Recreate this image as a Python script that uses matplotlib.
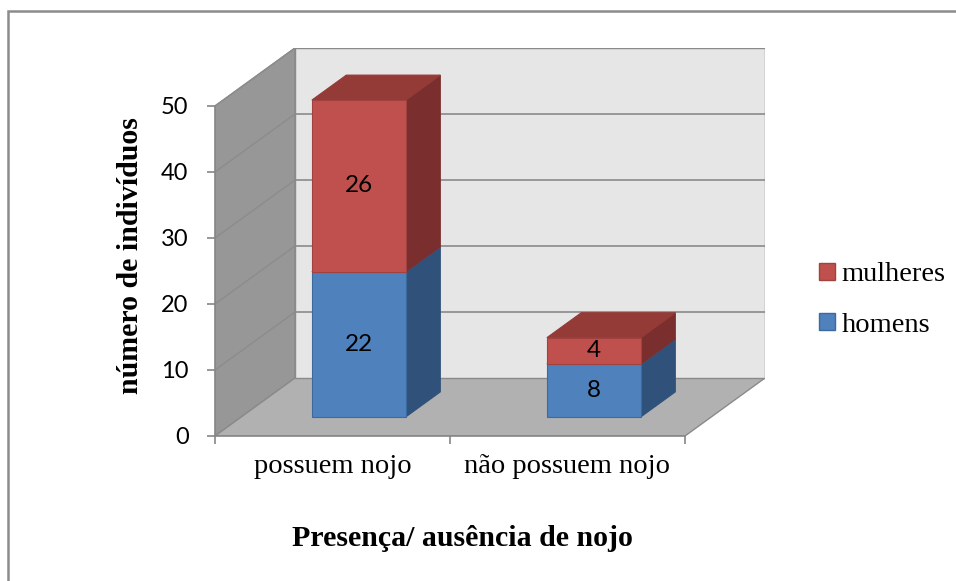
import matplotlib
matplotlib.use("Agg")
import matplotlib.pyplot as plt
from matplotlib.patches import Polygon, Rectangle, Patch
from matplotlib.font_manager import FontProperties

# ---------------- data ----------------
categories = ["possuem nojo", "não possuem nojo"]
homens = [22, 8]
mulheres = [26, 4]
series_names = ["homens", "mulheres"]
y_ticks = [0, 10, 20, 30, 40, 50]
y_max = 50

# ---------------- styles ----------------
front_cols = {"homens": "#4F81BD", "mulheres": "#C0504D"}
side_cols = {"homens": "#30527A", "mulheres": "#7A2F2E"}
top_cols = {"homens": "#3E6797", "mulheres": "#943A37"}
edge_cols = {"homens": "#3C6A9E", "mulheres": "#A04340"}

W, H = 956, 581
fig = plt.figure(figsize=(W / 100, H / 100), dpi=100)

# projection geometry (pixels)
x0_px, y0_px = 215, 436
cat_px = 235
unit_px = 6.6
dx_px, dy_px = 80, 58
n = len(categories)
DX = dx_px / cat_px
DY = dy_px / unit_px
xmax = n + DX
ytop = y_max + DY

ax = fig.add_axes([x0_px / W, (H - y0_px) / H, xmax * cat_px / W, ytop * unit_px / H])
ax.set_xlim(0, xmax)
ax.set_ylim(0, ytop)
ax.patch.set_visible(False)

grid_c = "#8a8a8a"
# walls
ax.add_patch(Polygon([(0, 0), (DX, DY), (DX, y_max + DY), (0, y_max)],
                     closed=True, fc="#979797", ec=grid_c, lw=1, zorder=1))
ax.add_patch(Polygon([(0, 0), (n, 0), (n + DX, DY), (DX, DY)],
                     closed=True, fc="#b1b1b1", ec=grid_c, lw=1, zorder=1))
ax.add_patch(Polygon([(DX, DY), (n + DX, DY), (n + DX, y_max + DY), (DX, y_max + DY)],
                     closed=True, fc="#e6e6e6", ec=grid_c, lw=1, zorder=1))
for t in y_ticks[1:]:
    ax.plot([DX, n + DX], [t + DY, t + DY], color=grid_c, lw=1.2, zorder=2)
    ax.plot([0, DX], [t, t + DY], color="#8c8c8c", lw=1, zorder=2)

# bars
bw = 0.4
d0, d1 = 0.33, 0.76
values = {"homens": homens, "mulheres": mulheres}
for i in range(n):
    xc = i + 0.5
    xl, xr = xc - bw / 2, xc + bw / 2
    bottom = 0
    for s in series_names:
        v = values[s][i]
        top = bottom + v
        a0x, a0y = d0 * DX, d0 * DY
        a1x, a1y = d1 * DX, d1 * DY
        ax.add_patch(Polygon([(xr + a0x, bottom + a0y), (xr + a1x, bottom + a1y),
                              (xr + a1x, top + a1y), (xr + a0x, top + a0y)],
                             closed=True, fc=side_cols[s], ec=side_cols[s], lw=0.8, zorder=3))
        ax.add_patch(Polygon([(xl + a0x, top + a0y), (xr + a0x, top + a0y),
                              (xr + a1x, top + a1y), (xl + a1x, top + a1y)],
                             closed=True, fc=top_cols[s], ec=top_cols[s], lw=0.8, zorder=3))
        ax.add_patch(Polygon([(xl + a0x, bottom + a0y), (xr + a0x, bottom + a0y),
                              (xr + a0x, top + a0y), (xl + a0x, top + a0y)],
                             closed=True, fc=front_cols[s], ec=edge_cols[s], lw=0.8, zorder=4))
        ax.text(xc + a0x, (bottom + top) / 2 + a0y, str(v), ha="center", va="center",
                fontsize=17.5, family="Lato", color="black", zorder=5)
        bottom = top

# axes
for sp in ["top", "right"]:
    ax.spines[sp].set_visible(False)
ax.spines["left"].set_bounds(0, y_max)
ax.spines["bottom"].set_bounds(0, n)
for sp in ["left", "bottom"]:
    ax.spines[sp].set_color("#868686")
    ax.spines[sp].set_linewidth(1.2)
    ax.spines[sp].set_zorder(6)
ax.set_yticks(y_ticks)
ax.set_yticklabels([str(t) for t in y_ticks], family="Lato", fontsize=17)
ax.tick_params(axis="y", length=6, color="#868686", width=1.2, pad=13)
ax.set_xticks(list(range(n + 1)))
ax.set_xticklabels([""] * (n + 1))
ax.tick_params(axis="x", which="major", length=6, color="#868686", width=1.2)
ax.set_xticks([i + 0.5 for i in range(n)], minor=True)
ax.set_xticklabels(categories, minor=True, family="Liberation Serif", fontsize=20.5)
ax.tick_params(axis="x", which="minor", length=0, pad=13)

fig.text(130 / W, 1 - 256 / H, "número de indivíduos", rotation=90, ha="center", va="center",
         family="Liberation Serif", fontweight="bold", fontsize=21.5)
fig.text(462 / W, 1 - 538 / H, "Presença/ ausência de nojo", ha="center", va="center",
         family="Liberation Serif", fontweight="bold", fontsize=21.5)

handles = [Patch(fc=front_cols[s], ec=edge_cols[s]) for s in series_names[::-1]]
fig.legend(handles, series_names[::-1], loc="center left",
           bbox_to_anchor=(819 / W, 1 - 300 / H), frameon=False,
           prop=FontProperties(family="Liberation Serif", size=20.5),
           handlelength=0.55, handleheight=0.55, handletextpad=0.25, labelspacing=0.9,
           borderpad=0, borderaxespad=0)

fig.patches.append(Rectangle((8 / W, -0.1), 1.2, 1.1 - 11 / H, transform=fig.transFigure,
                             fill=False, ec="#8c8c8c", lw=1.8))

fig.savefig("out.png", dpi=100)
